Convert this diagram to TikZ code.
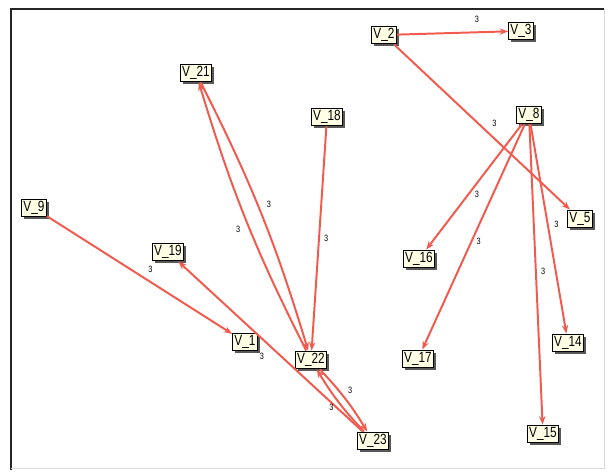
\documentclass[tikz,border=0pt]{standalone}
\usepackage{fontspec}
\newfontfamily\vfont[FakeStretch=0.8]{Liberation Sans}
\usetikzlibrary{arrows.meta,shadows}
\definecolor{linkred}{HTML}{F25A4E}
\definecolor{vcream}{HTML}{FFFFE6}

\begin{document}
\begin{tikzpicture}[
    x=0.025cm, y=-0.025cm,
    >={Stealth[length=6pt,width=4.5pt]},
    vbox/.style={draw, line width=0.9pt, fill=vcream, inner sep=1.2pt,
                 minimum height=12.5pt, font=\vfont\fontsize{10.5}{11}\selectfont,
                 drop shadow={shadow xshift=1.7pt, shadow yshift=-1.7pt,
                              fill=black!65, opacity=1}},
    link/.style={->, draw=linkred, line width=1.4pt},
    wlabel/.style={font=\vfont\fontsize{6.5}{6.5}\selectfont, inner sep=1pt},
]
\useasboundingbox (0,0) rectangle (608,472);

% panel frame
\draw[black!85, line width=1pt] (11,470) -- (11,9) -- (604,9);
\draw[black!15, line width=0.6pt] (604,9) -- (604,468) -- (11,468);

% vertices
\node[vbox] (v2)  at (384,35)  {V\_2};
\node[vbox] (v3)  at (521,31)  {V\_3};
\node[vbox] (v21) at (196,73)  {V\_21};
\node[vbox] (v18) at (327,117) {V\_18};
\node[vbox] (v8)  at (529,115) {V\_8};
\node[vbox] (v9)  at (34,208)  {V\_9};
\node[vbox] (v5)  at (580,219) {V\_5};
\node[vbox] (v19) at (168,252) {V\_19};
\node[vbox] (v16) at (419,259) {V\_16};
\node[vbox] (v1)  at (245,342) {V\_1};
\node[vbox] (v22) at (311,360) {V\_22};
\node[vbox] (v17) at (418,359) {V\_17};
\node[vbox] (v14) at (568,343) {V\_14};
\node[vbox] (v15) at (543,434) {V\_15};
\node[vbox] (v23) at (373,441) {V\_23};

% V_2 links
\draw[link] (v2) -- node[wlabel, pos=0.72, above=5pt] {3} (v3);
\draw[link] (v2) -- node[wlabel, pos=0.53, above right=2pt] {3} (v5);

% V_8 fan
\draw[link] (v8) -- node[wlabel, pos=0.56, right=3pt] {3} (v16);
\draw[link] (v8) -- node[wlabel, pos=0.52, right=2pt] {3} (v17);
\draw[link] (v8) -- node[wlabel, pos=0.49, right=2pt] {3} (v15);
\draw[link] (v8) -- node[wlabel, pos=0.48, right=3pt] {3} (v14);

% left group
\draw[link] (v9) -- node[wlabel, pos=0.52, above right=2pt] {3} (v1);
\draw[link] (v23) -- node[wlabel, pos=0.5, below left=3pt] {3} (v19);
\draw[link] (v18) -- node[wlabel, pos=0.5, right=2pt] {3} (v22);
\draw[link] (v22) to[bend left=5] node[wlabel, pos=0.46, left=5pt] {3} (v21);
\draw[link] (v21) to[bend left=5] node[wlabel, pos=0.46, right=5pt] {3} (v22);
\draw[link] (v22) to[bend left=6] node[wlabel, pos=0.35, right=5pt] {3} (v23);
\draw[link] (v23) to[bend left=6] node[wlabel, pos=0.4, left=5pt] {3} (v22);

\end{tikzpicture}
\end{document}
